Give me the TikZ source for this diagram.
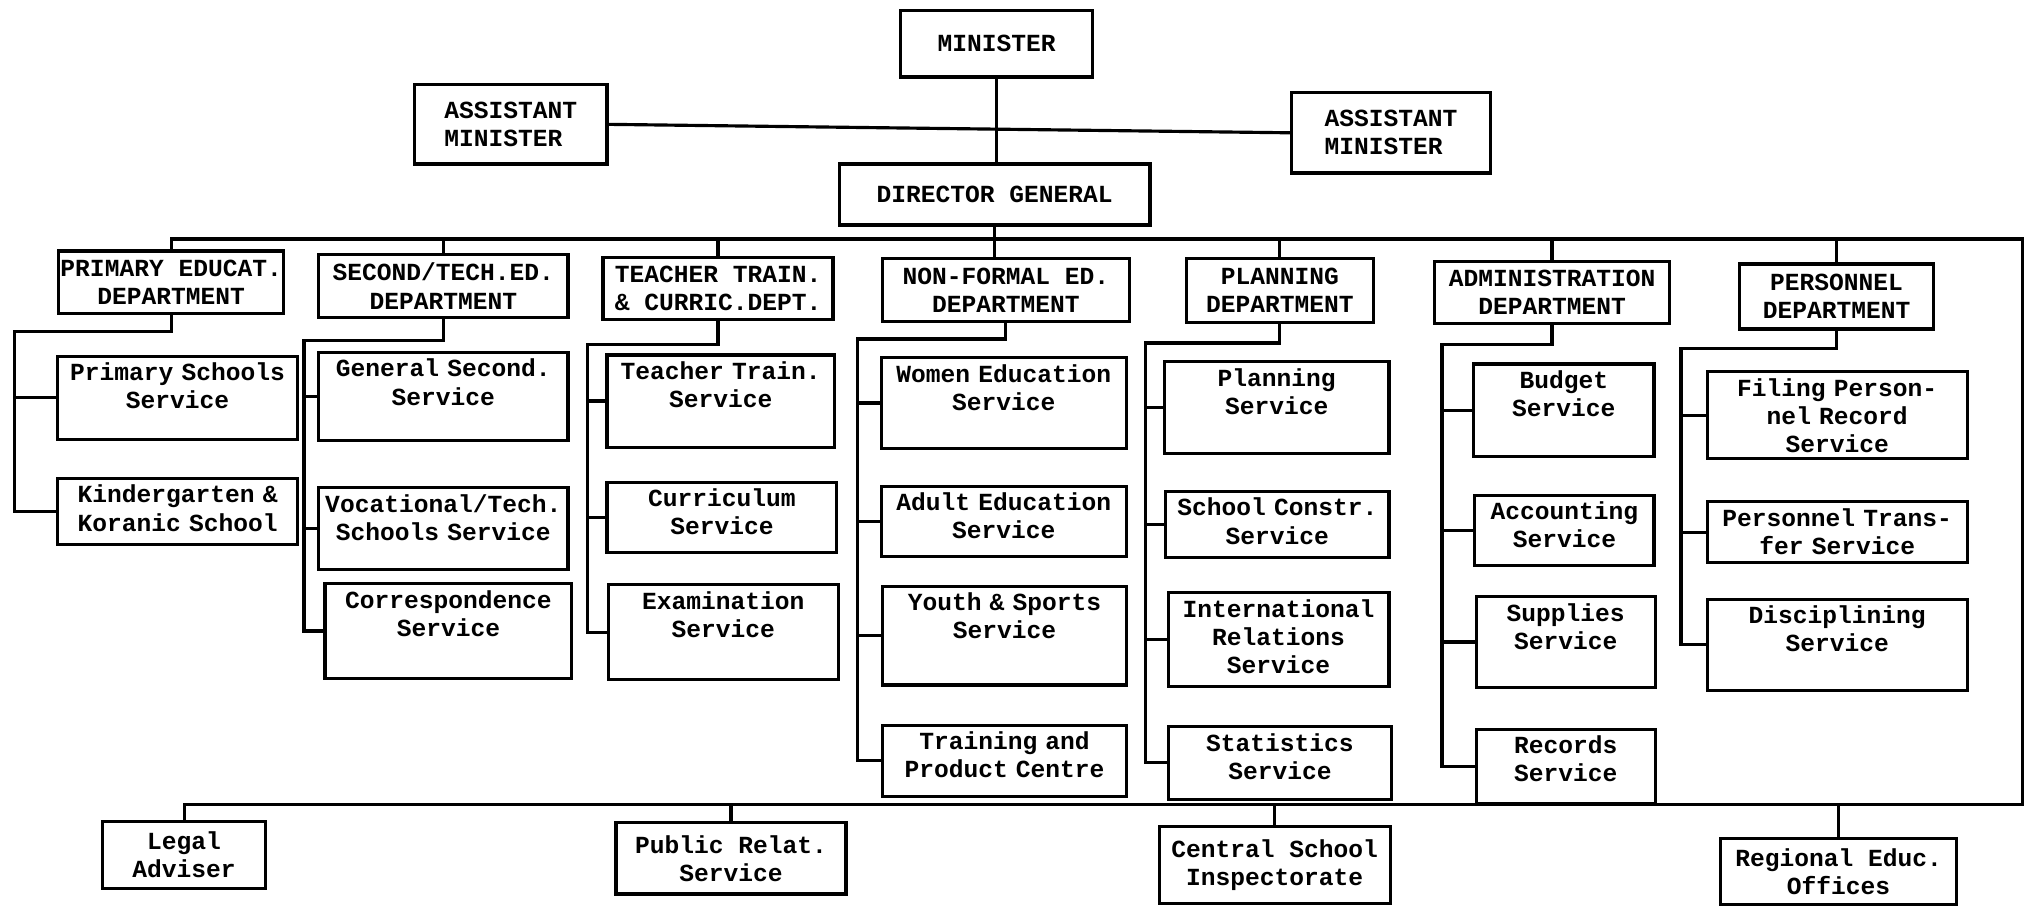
\documentclass[tikz,border=0pt]{standalone}
\usepackage{fontspec}
\newfontfamily\orgfont{Liberation Mono}[WordSpace={1,0,0}]
\usepackage{tikz}
\tikzset{
  box/.style = {draw, align=center, font=\orgfont\bfseries\fontsize{7}{8}\selectfont},
  headbox/.style 2 args = {box, anchor=north west, inner xsep=0.5pt, inner ysep=1pt,
    minimum width={#1*0.013cm}, minimum height={#2*0.013cm}},
  svcbox/.style 2 args = {box, anchor=north west, inner xsep=1pt, inner ysep=1pt,
    text width={#1*0.013cm-2pt}, text height=6pt, text depth={#2*0.013cm-8pt}},
}

\begin{document}
\begin{tikzpicture}[x=0.013cm, y=-0.013cm, line width=0.9pt]
  \useasboundingbox (0,0) rectangle (1568,697);

  % top of the chart
  \node[headbox={148}{51}] (mn) at (692,7) {MINISTER};
  \node[headbox={148}{61}, align=left] (aml) at (318,64) {ASSISTANT\\MINISTER};
  \node[headbox={153}{62}, align=left] (amr) at (993,70) {ASSISTANT\\MINISTER};
  \node[headbox={239}{47}] (dg) at (645,125) {DIRECTOR GENERAL};

  % departments
  \node[headbox={172}{48}] (pri) at (44,192) {PRIMARY EDUCAT.\\DEPARTMENT};
  \node[headbox={192}{48}] (sec) at (244,195) {SECOND/TECH.ED.\\DEPARTMENT};
  \node[headbox={177}{48}] (tea) at (463,197) {TEACHER TRAIN.\\\& CURRIC.DEPT.};
  \node[headbox={190}{48}] (nfe) at (678,198) {NON-FORMAL ED.\\DEPARTMENT};
  \node[headbox={144}{49}] (pla) at (912,198) {PLANNING\\DEPARTMENT};
  \node[headbox={181}{48}] (adm) at (1103,200) {ADMINISTRATION\\DEPARTMENT};
  \node[headbox={149}{50}] (per) at (1338,202) {PERSONNEL\\DEPARTMENT};

  % services
  \node[svcbox={185}{64}] (pss) at (43,273) {Primary Schools\\Service};
  \node[svcbox={185}{51}] (kin) at (43,367) {Kindergarten \&\\Koranic School};

  \node[svcbox={192}{68}] (gss) at (244,270) {General Second.\\Service};
  \node[svcbox={192}{63}] (vts) at (244,374) {Vocational/Tech.\\Schools Service};
  \node[svcbox={190}{73}] (cor) at (249,448) {Correspondence\\Service};

  \node[svcbox={175}{71}] (tts) at (466,272) {Teacher Train.\\Service};
  \node[svcbox={177}{54}] (cur) at (466,370) {Curriculum\\Service};
  \node[svcbox={177}{73}] (exa) at (467,449) {Examination\\Service};

  \node[svcbox={189}{70}] (wom) at (677,274) {Women Education\\Service};
  \node[svcbox={189}{54}] (adu) at (677,373) {Adult Education\\Service};
  \node[svcbox={188}{76}] (you) at (678,450) {Youth \& Sports\\Service};
  \node[svcbox={188}{55}] (tra) at (678,557) {Training and\\Product Centre};

  \node[svcbox={173}{71}] (pls) at (895,277) {Planning\\Service};
  \node[svcbox={172}{51}] (sch) at (896,377) {School Constr.\\Service};
  \node[svcbox={170}{72}] (int) at (898,455) {International\\Relations\\Service};
  \node[svcbox={172}{56}] (sta) at (898,558) {Statistics\\Service};

  \node[svcbox={139}{71}] (bud) at (1133,279) {Budget\\Service};
  \node[svcbox={138}{54}] (acc) at (1134,380) {Accounting\\Service};
  \node[svcbox={138}{70}] (sup) at (1135,458) {Supplies\\Service};
  \node[svcbox={138}{57}] (rec) at (1135,560) {Records\\Service};

  \node[svcbox={200}{67}] (fil) at (1313,285) {Filing Person-\\nel Record\\Service};
  \node[svcbox={200}{47}] (trn) at (1313,385) {Personnel Trans-\\fer Service};
  \node[svcbox={200}{70}] (dis) at (1313,460) {Disciplining\\Service};

  % staff offices
  \node[headbox={125}{52}] (leg) at (78,631) {Legal\\Adviser};
  \node[headbox={177}{55}] (pub) at (473,632) {Public Relat.\\Service};
  \node[headbox={178}{59}] (cen) at (891,635) {Central School\\Inspectorate};
  \node[headbox={182}{51}] (reg) at (1323,644) {Regional Educ.\\Offices};

  % lines
  \coordinate (busNE) at (1557,184);
  \coordinate (busSE) at (1557,619);
  \draw (mn.south) -- (mn.south |- dg.north);
  \draw (aml.east) -- (amr.west);
  \draw (dg.south) -- (dg.south |- nfe.north);
  \draw (pri.north) |- (busNE) -- (busSE) -| (leg.north);
  \foreach \d in {sec, tea, pla, adm, per}
    \draw (\d.north) -- (\d.north |- busNE);
  \foreach \b in {pub, cen, reg}
    \draw (\b.north) -- (\b.north |- busSE);

  \coordinate (pri-sp) at (11,255);
  \coordinate (sec-sp) at (234,262);
  \coordinate (tea-sp) at (452,265);
  \coordinate (nfe-sp) at (660,261);
  \coordinate (pla-sp) at (882,264);
  \coordinate (adm-sp) at (1110,265);
  \coordinate (per-sp) at (1294,268);

  \draw (pri.south) |- (pri-sp) |- (kin.west);
  \draw (sec.south) |- (sec-sp) |- (cor.west);
  \draw (tea.south) |- (tea-sp) |- (exa.west);
  \draw (nfe.south) |- (nfe-sp) |- (tra.west);
  \draw (pla.south) |- (pla-sp) |- (sta.west);
  \draw (adm.south) |- (adm-sp) |- (rec.west);
  \draw (per.south) |- (per-sp) |- (dis.west);
  \foreach \s/\p in {pss/pri, gss/sec, vts/sec, tts/tea, cur/tea, wom/nfe, adu/nfe, you/nfe,
                     pls/pla, sch/pla, int/pla, bud/adm, acc/adm, sup/adm, fil/per, trn/per}
    \draw (\s.west) -- (\s.west -| \p-sp);
\end{tikzpicture}
\end{document}
